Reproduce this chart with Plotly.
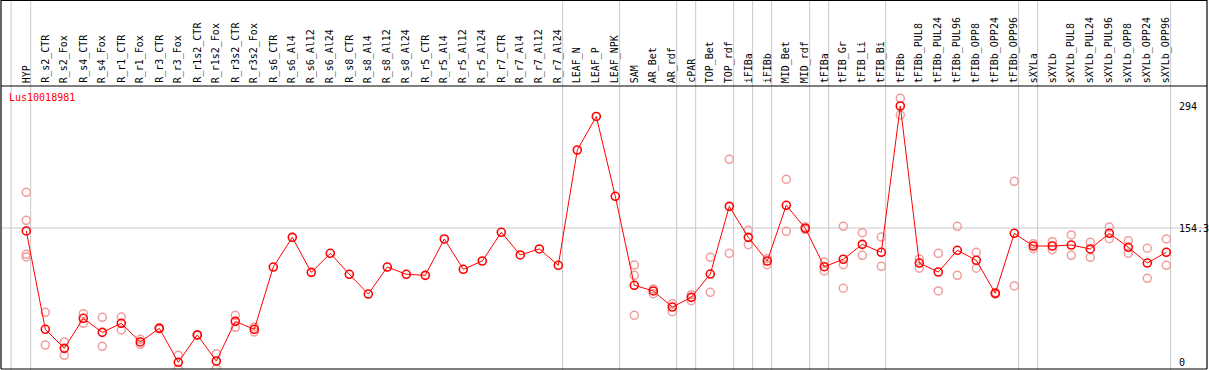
import plotly.graph_objects as go

categories = ["HYP", "R_s2_CTR", "R_s2_Fox", "R_s4_CTR", "R_s4_Fox", "R_r1_CTR", "R_r1_Fox",
              "R_r3_CTR", "R_r3_Fox", "R_r1s2_CTR", "R_r1s2_Fox", "R_r3s2_CTR", "R_r3s2_Fox",
              "R_s6_CTR", "R_s6_Al4", "R_s6_Al12", "R_s6_Al24", "R_s8_CTR", "R_s8_Al4",
              "R_s8_Al12", "R_s8_Al24", "R_r5_CTR", "R_r5_Al4", "R_r5_Al12", "R_r5_Al24",
              "R_r7_CTR", "R_r7_Al4", "R_r7_Al12", "R_r7_Al24", "LEAF_N", "LEAF_P", "LEAF_NPK",
              "SAM", "AR_Bet", "AR_rdf", "cPAR", "TOP_Bet", "TOP_rdf", "iFIBa", "iFIBb",
              "MID_Bet", "MID_rdf", "tFIBa", "tFIB_Gr", "tFIB_Li", "tFIB_Bi", "tFIBb",
              "tFIBb_PUL8", "tFIBb_PUL24", "tFIBb_PUL96", "tFIBb_OPP8", "tFIBb_OPP24",
              "tFIBb_OPP96", "sXYLa", "sXYLb", "sXYLb_PUL8", "sXYLb_PUL24", "sXYLb_PUL96",
              "sXYLb_OPP8", "sXYLb_OPP24", "sXYLb_OPP96"]

mean_values = [150.9, 38.3, 16.5, 50.9, 34.8, 45.2, 23.8, 39.4, 0.5, 31.8, 2.0, 47.4, 38.3,
               109.6, 143.6, 103.5, 125.3, 101.3, 78.7, 109.6, 101.3, 100.1, 141.7, 107.0, 116.5,
               149.4, 123.4, 130.3, 111.6, 243.6, 282.0, 190.6,
               88.7, 82.2, 63.8, 74.9, 101.6, 179.1, 143.6, 116.5, 180.3, 154.0, 110.0, 118.5,
               135.6, 126.5, 294.0, 114.2, 103.9, 128.8, 117.3, 79.5, 148.2, 133.7, 133.7,
               134.8, 130.3, 148.2, 132.2, 114.2, 126.5]

replicates = [
    [195.2, 163.1, 124.2, 121.1], [57.7, 20.3], [23.8, 8.5], [56.2, 45.2], [52.0, 18.8],
    [52.4, 37.5], [26.8, 21.1], [40.0, 39.0], [8.5, -7.2], [32.0, 31.5], [10.4, -7.0],
    [54.3, 40.6], [41.0, 35.2],
    [], [], [], [], [], [], [], [], [], [], [], [], [], [], [], [], [], [], [],
    [111.9, 100.1, 54.3], [84.5, 79.1], [67.6, 58.5], [77.9, 71.1], [120.7, 80.7],
    [233.0, 125.3], [151.7, 135.2], [119.2, 112.3], [210.1, 150.5], [155.5, 152.5],
    [115.4, 105.1], [156.2, 112.3, 85.3], [148.9, 123.0], [144.0, 110.4], [302.8, 283.7],
    [118.8, 108.2], [125.3, 82.2], [156.2, 100.1], [126.5, 108.2], [80.5, 78.5],
    [207.8, 87.9], [136.3, 130.6], [138.6, 129.4], [146.3, 123.0], [137.9, 120.7],
    [155.4, 142.1], [139.8, 125.3], [131.1, 96.7], [141.7, 111.6],
]

group_ends = [0, 28, 31, 34, 35, 37, 38, 39, 41, 42, 45, 52, 53, 60]
y_ticks = [294, 154.3, 0]
y_tick_text = ["294", "154.3", "0"]
gene_name = "Lus10018981"

W, H = 1209, 370
x_idx = list(range(len(categories)))

rep_x, rep_y = [], []
for i, reps in enumerate(replicates):
    for v in reps:
        rep_x.append(i)
        rep_y.append(v)

fig = go.Figure()
fig.add_trace(go.Scatter(
    x=rep_x, y=rep_y, mode="markers",
    marker=dict(symbol="circle-open", size=8, color="#f09c9c", line=dict(width=1.5, color="#f09c9c")),
    hoverinfo="skip", showlegend=False))
fig.add_trace(go.Scatter(
    x=x_idx, y=mean_values, mode="lines+markers",
    line=dict(color="#ff0000", width=1),
    marker=dict(symbol="circle-open", size=8, color="#ff0000", line=dict(width=1.6, color="#ff0000")),
    showlegend=False))

# pixel geometry
left_px, right_px, top_px, bot_px = 1, 1207, 86, 369
x0_px, step_px = 26.3, 19.0
xr = [(left_px - x0_px) / step_px, (right_px - x0_px) / step_px]
yr = [-7.16, 316.9]

def xpaper(i):
    return (i - xr[0]) / (xr[1] - xr[0])

def ypaper_px(py):
    return (bot_px - py) / (bot_px - top_px)

shapes = []
# vertical group separators spanning full height
sep_positions = [-0.8] + [e + 0.23 for e in group_ends]
for s in sep_positions:
    shapes.append(dict(type="line", xref="paper", yref="paper",
                       x0=xpaper(s), x1=xpaper(s), y0=ypaper_px(H), y1=ypaper_px(0),
                       line=dict(color="#c8c8c8", width=1), layer="below"))
# horizontal grid at middle tick
shapes.append(dict(type="line", xref="paper", yref="y", x0=0, x1=1,
                   y0=y_ticks[1], y1=y_ticks[1], line=dict(color="#c8c8c8", width=1), layer="below"))
# frame lines
black = dict(color="#000000", width=1.2)
shapes += [
    dict(type="line", xref="paper", yref="paper", x0=0, x1=1, y0=ypaper_px(0.5), y1=ypaper_px(0.5), line=black),
    dict(type="line", xref="paper", yref="paper", x0=0, x1=1, y0=1, y1=1, line=black),
    dict(type="line", xref="paper", yref="paper", x0=0, x1=1, y0=0, y1=0, line=black),
    dict(type="line", xref="paper", yref="paper", x0=0, x1=0, y0=ypaper_px(0), y1=0, line=black),
    dict(type="line", xref="paper", yref="paper", x0=1, x1=1, y0=ypaper_px(0), y1=0, line=black),
]

font_mono = "DejaVu Sans Mono"
annotations = []
for i, c in enumerate(categories):
    annotations.append(dict(x=i, xref="x", y=1, yref="paper", text=c, textangle=-90,
                            showarrow=False, xanchor="center", yanchor="bottom", yshift=2,
                            borderpad=0, font=dict(family=font_mono, size=10, color="#000000")))
for v, t in zip(y_ticks, y_tick_text):
    annotations.append(dict(x=xpaper((1178 - x0_px) / step_px), xref="paper", y=v, yref="y", text=t,
                            showarrow=False, xanchor="left", yanchor="middle", borderpad=0,
                            font=dict(family=font_mono, size=10, color="#000000")))
annotations.append(dict(x=xpaper((8 - x0_px) / step_px), xref="paper", y=ypaper_px(97), yref="paper",
                        text=gene_name, showarrow=False, xanchor="left", yanchor="middle", borderpad=0,
                        font=dict(family=font_mono, size=10, color="#ff0000")))

fig.update_layout(
    width=W, height=H, autosize=False,
    margin=dict(l=left_px, r=W - right_px, t=top_px, b=H - bot_px, pad=0),
    paper_bgcolor="#ffffff", plot_bgcolor="#ffffff",
    xaxis=dict(range=xr, showgrid=False, zeroline=False, showticklabels=False, ticks="", showline=False),
    yaxis=dict(range=yr, showgrid=False, zeroline=False, showticklabels=False, ticks="", showline=False),
    shapes=shapes, annotations=annotations, showlegend=False,
)

fig.write_html("out.html", config={"displayModeBar": False},
               post_script="document.body.style.margin='0';document.body.style.overflow='hidden';")
